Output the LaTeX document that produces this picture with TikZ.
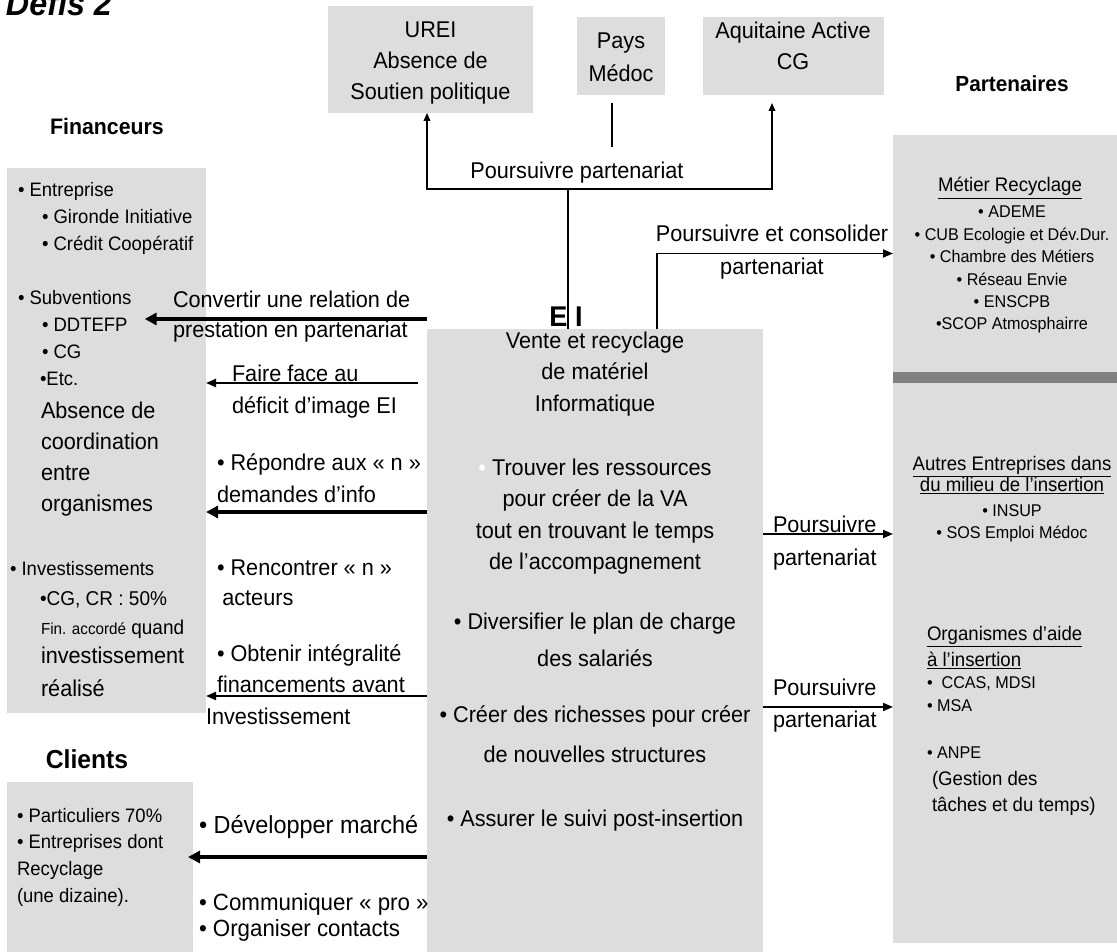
\documentclass[tikz,border=0pt]{standalone}
\usepackage{fontspec}
\setmainfont{Liberation Sans}[FakeStretch=0.95]
\usetikzlibrary{arrows.meta,fit}
\definecolor{boxgray}{HTML}{DDDDDD}
\definecolor{stripegray}{HTML}{808080}
\newcommand{\ctab}[1]{\begin{tabular}[t]{@{}c@{}}#1\end{tabular}}
\newcommand{\ltab}[1]{\begin{tabular}[t]{@{}l@{}}#1\end{tabular}}
\newcommand{\fs}[2]{\fontsize{#1}{#2}\selectfont}
\tikzset{
  box/.style={fill=boxgray, draw=none, inner sep=0pt, outer sep=0pt},
  txt/.style={inner sep=0pt, outer sep=0pt, anchor=base},
  ltxt/.style={inner sep=0pt, outer sep=0pt, anchor=base west},
  conn/.style={line width=1pt, black},
  midline/.style={line width=1.5pt, black, -{Triangle[length=7.5pt,width=6pt]}},
  rightline/.style={line width=1.3pt, black, -{Triangle[length=7.5pt,width=6pt]}},
  thickline/.style={line width=3pt, black, -{Triangle[length=9pt,width=9pt]}},
  smalltip/.style={-{Triangle[length=6pt,width=5pt]}}
}
\begin{document}
\begin{tikzpicture}[x=0.75pt,y=-0.75pt]
\useasboundingbox (0,0) rectangle (1117,952);

% ---------- boxes ----------
\node[box, fit={(328,6) (533,113)}] (urei) {};
\node[box, fit={(577,17) (665,95)}] (pays) {};
\node[box, fit={(703,17) (884,95)}] (aqui) {};
\node[box, fit={(7,168) (206,713)}] (fin) {};
\node[box, fit={(7,782) (193,952)}] (cli) {};
\node[box, fit={(427,329) (763,952)}] (ei) {};
\node[box, fit={(893,135) (1117,372)}] (partup) {};
\node[box, fill=stripegray, fit={(893,372) (1117,383)}] (stripe) {};
\node[box, fit={(893,383) (1117,943)}] (partlow) {};

% ---------- connectors ----------
\coordinate (j1) at (568,189);
\coordinate (paysend) at (612,147);
\draw[conn] (ei.north -| j1) -- (j1);
\draw[conn, {Triangle[length=6pt,width=5pt]}-{Triangle[length=6pt,width=5pt]}, shorten >=6pt]
  (urei.south -| 427,0) |- (j1) -| (aqui.south -| 772,0);
\draw[conn, shorten <=6pt] (pays.south -| paysend) -- (paysend);
\draw[rightline] (ei.north -| 657,0) |- (partup.west);

\draw[thickline, shorten >=-46pt] (ei.west |- 0,319) -- (fin.east |- 0,319);
\draw[midline, shorten <=6.75pt] (ei.west |- 0,383) -- (fin.east |- 0,383);
\draw[thickline] (ei.west |- 0,512) -- (fin.east |- 0,512);
\draw[midline] (ei.west |- 0,696) -- (fin.east |- 0,696);
\draw[thickline, shorten >=-3.75pt] (ei.west |- 0,857) -- (cli.east |- 0,857);

\draw[rightline] (ei.east |- 0,534) -- (partlow.west |- 0,534);
\draw[rightline] (ei.east |- 0,707) -- (partlow.west |- 0,707);

% ---------- texts ----------
\node[ltxt, font={\fs{25.5}{30}\bfseries\itshape}] (title) at (6,16) {Défis 2};

\node[txt, font={\fs{17.1}{23.25}}] (ureitxt) at (430.5,38) {\ctab{UREI\\Absence de\\Soutien politique}};
\node[txt, font={\fs{17.1}{24.75}}] (paystxt) at (621,49) {\ctab{Pays\\Médoc}};
\node[txt, font={\fs{17.1}{23.25}}] (aquitxt) at (793,39) {\ctab{Aquitaine Active\\CG}};
\node[txt, font={\fs{17.1}{23.7}}] (pptop) at (577,179) {Poursuivre partenariat};
\node[txt, font={\fs{17.1}{24.75}}] (consol) at (772,242) {\ctab{Poursuivre et consolider\\partenariat}};

\node[txt, font={\fs{16.4}{20}\bfseries}] (parthead) at (1012,92) {Partenaires};
\node[txt, font={\fs{16.8}{20}\bfseries}] (finhead) at (107,135) {Financeurs};
\node[txt, font={\fs{19.5}{22}\bfseries}] (clihead) at (87,768) {Clients};
\node[txt, font={\fs{21.4}{26}\bfseries}] (eihead) at (566,326) {E I};

% Financeurs
\node[ltxt, font={\fs{14.6}{20.2}}] (finlist) at (18,197) {\ltab{• Entreprise\\\hspace{18pt}• Gironde Initiative\\\hspace{18pt}• Crédit Coopératif\\ \\• Subventions\\\hspace{18pt}• DDTEFP\\\hspace{18pt}• CG\\\hspace{16.5pt}•Etc.}};
\node[ltxt, font={\fs{17.1}{23.25}}] (absence) at (41,418) {\ltab{Absence de\\coordination\\entre\\organismes}};
\node[ltxt, font={\fs{14.6}{20.2}}] (invest) at (10,575) {• Investissements};
\node[ltxt, font={\fs{15}{20.2}}] (cgcr) at (40,605) {•CG, CR : 50\%};
\node[ltxt, font={\fs{15}{20.2}}] (finacc) at (41,634) {{\fs{12}{14}Fin. accordé} quand};
\node[ltxt, font={\fs{17.1}{24.75}}] (investr) at (41,663) {\ltab{investissement\\réalisé}};

% Clients
\node[ltxt, font={\fs{14.6}{20.2}}] (clilist) at (17,822) {\ltab{• Particuliers 70\%\\• Entreprises dont\\Recyclage\\(une dizaine).}};

% middle-left labels
\node[ltxt, font={\fs{17.1}{22.5}}] (convert) at (173,307) {\ltab{Convertir une relation de\\prestation en partenariat}};
\node[ltxt, font={\fs{17.1}{24}}] (faire) at (232,381) {\ltab{Faire face au\\déficit d’image EI}};
\node[ltxt, font={\fs{17.1}{24}}] (repondre) at (217,470) {\ltab{• Répondre aux « n »\\demandes d’info}};
\node[ltxt, font={\fs{17.1}{22.5}}] (rencontre) at (217,575) {\ltab{• Rencontrer « n »\\\hspace{4pt}acteurs}};
\node[ltxt, font={\fs{17.1}{23.25}}] (obtenir) at (217,661) {\ltab{• Obtenir intégralité\\financements avant}};
\node[ltxt, font={\fs{17.1}{23.25}}] (investl) at (206,724) {Investissement};
\node[ltxt, font={\fs{18.5}{23.25}}] (develop) at (199,833) {• Développer marché};
\node[ltxt, font={\fs{17.6}{20.2}}] (commun) at (199,910) {\ltab{• Communiquer « pro »\\• Organiser contacts}};

% centre box
\node[txt, font={\fs{17.1}{23.7}}] (p1) at (595,348) {\ctab{Vente et recyclage\\de matériel\\Informatique}};
\node[txt, font={\fs{17.1}{23.7}}] (p2) at (595,475) {\ctab{{\color{white}•} Trouver les ressources\\pour créer de la VA\\tout en trouvant le temps\\de l’accompagnement}};
\node[txt, font={\fs{17.1}{27.75}}] (p3) at (595,629) {\ctab{• Diversifier le plan de charge\\des salariés}};
\node[txt, font={\fs{17.1}{30}}] (p4) at (595,722) {\ctab{• Créer des richesses pour créer\\de nouvelles structures}};
\node[txt, font={\fs{17.1}{23.7}}] (p5) at (595,826) {• Assurer le suivi post-insertion};

% right labels
\node[ltxt, font={\fs{17.1}{24.75}}] (pp1) at (773,532) {\ltab{Poursuivre\\partenariat}};
\node[ltxt, font={\fs{17.1}{24}}] (pp2) at (773,695) {\ltab{Poursuivre\\partenariat}};

% partners upper
\node[txt, font={\fs{14.7}{18}}] (metier) at (1010,192) {\underline{Métier Recyclage}};
\node[txt, font={\fs{12.75}{16.8}}] (metlist) at (1012,218) {\ctab{• ADEME\\• CUB Ecologie et Dév.Dur.\\• Chambre des Métiers\\• Réseau Envie\\• ENSCPB\\•SCOP Atmosphairre}};

% partners lower
\node[txt, font={\fs{14.7}{15.75}}] (autres) at (1012,470) {\ctab{\underline{Autres Entreprises dans}\\\underline{du milieu de l’insertion}}};
\node[txt, font={\fs{12.75}{16.5}}] (insup) at (1012,516) {\ctab{• INSUP\\• SOS Emploi Médoc}};
\node[ltxt, font={\fs{14.7}{20}}] (organ) at (927,640) {\ltab{\underline{Organismes d’aide}\\\underline{à l’insertion}}};
\node[ltxt, font={\fs{12.75}{17.5}}] (ccas) at (927,688) {\ltab{•\ \ CCAS, MDSI\\• MSA\\ \\• ANPE}};
\node[ltxt, font={\fs{14.7}{20}}] (gestion) at (932,785) {\ltab{(Gestion des\\tâches et du temps)}};
\end{tikzpicture}
\end{document}
